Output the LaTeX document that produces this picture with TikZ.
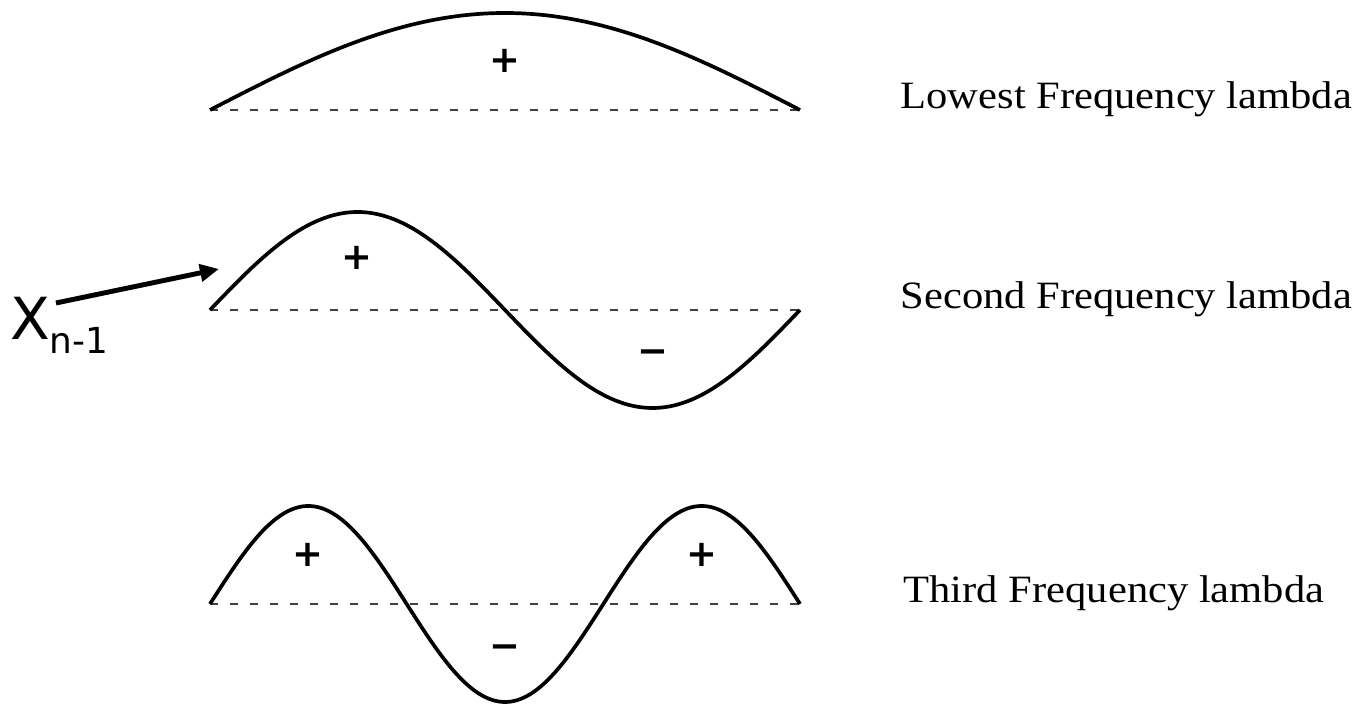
\documentclass[tikz,border=0pt]{standalone}
\usepackage{fontspec}
\setmainfont{Liberation Serif}
\newfontfamily\djv{DejaVu Sans}
\usetikzlibrary{arrows.meta}
\tikzset{
  wave/.style={line width=1.05pt, line join=round},
  axisline/.style={line width=0.5pt, draw=black!75, dash pattern=on 0.08cm off 0.12cm},
  sign/.style={font=\djv\bfseries\fontsize{10.5}{12}\selectfont, inner sep=0pt},
  caption/.style={font=\fontsize{11}{13}\selectfont, anchor=base west, inner sep=0pt},
  ptr/.style={line width=1.4pt, -{Triangle[length=0.19cm, width=0.17cm]}},
}
\begin{document}
\begin{tikzpicture}[x=0.01cm, y=-0.01cm]
\useasboundingbox (0,0) rectangle (1362,707);
% lowest
\draw[axisline] (210,110) -- (800,110);
\draw[wave] plot[domain=210:800, samples=200] (\x, {110-97*sin((\x-210)/590*180)});
\node[sign] (p1) at (505,61) {+};
\node[caption] (t1) at (900,109) {\scalebox{1.1}[1]{Lowest Frequency lambda}};
% second
\draw[axisline] (210,310) -- (800,310);
\draw[wave] plot[domain=210:800, samples=250] (\x, {310-98*sin((\x-210)/590*360)});
\node[sign] (p2) at (357,258) {+};
\node[sign] (m2) at (653,357) {−};
\node[caption] (t2) at (900,309) {\scalebox{1.1}[1]{Second Frequency lambda}};
% third
\draw[axisline] (210,604) -- (800,604);
\draw[wave] plot[domain=210:800, samples=300] (\x, {604-98*sin((\x-210)/590*540)});
\node[sign] (p3a) at (308,555) {+};
\node[sign] (m3) at (505,652) {−};
\node[sign] (p3b) at (702,555) {+};
\node[caption] (t3) at (903,603) {\scalebox{1.1}[1]{Third Frequency lambda}};
% x_{n-1}
\node[font=\djv\fontsize{16.5}{19}\selectfont, anchor=base west, inner sep=0pt] (xl) at (10,340) {X};
\node[font=\djv\fontsize{10.2}{12}\selectfont, anchor=base west, inner sep=0pt] (xs) at (49,354) {n-1};
\coordinate (arrS) at (56,303);
\coordinate (arrE) at (219,269);
\draw[ptr] (arrS) -- (arrE);
\end{tikzpicture}
\end{document}
